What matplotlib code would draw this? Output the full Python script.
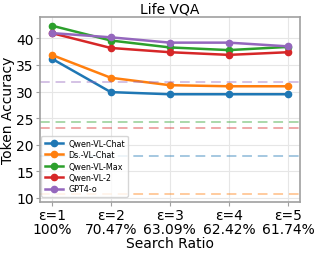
import matplotlib
matplotlib.use('Agg')
import matplotlib.pyplot as plt

# datos
etiquetas = ['ε=1\n100%', 'ε=2\n70.47%', 'ε=3\n63.09%', 'ε=4\n62.42%', 'ε=5\n61.74%']
modelos = ['Qwen-VL-Chat', 'Ds.-VL-Chat', 'Qwen-VL-Max', 'Qwen-VL-2', 'GPT4-o']
colores = ['#1f77b4', '#ff7f0e', '#2ca02c', '#d62728', '#9467bd']
qwen_vl_chat = [36.2, 29.9, 29.5, 29.5, 29.5]
ds_vl_chat = [36.9, 32.6, 31.2, 31.0, 31.0]
qwen_vl_max = [42.4, 39.6, 38.3, 37.8, 38.4]
qwen_vl_2 = [41.0, 38.2, 37.4, 36.9, 37.4]
gpt4_o = [41.0, 40.2, 39.2, 39.2, 38.5]
# lineas base (discontinuas)
base = [17.8, 10.8, 24.3, 23.1, 31.8]

series = [qwen_vl_chat, ds_vl_chat, qwen_vl_max, qwen_vl_2, gpt4_o]
x = list(range(len(etiquetas)))

fig, ax = plt.subplots(figsize=(3.19, 2.55), dpi=100)

for valores, nombre, c in zip(series, modelos, colores):
    ax.plot(x, valores, marker='o', markersize=4.5, linewidth=1.8, color=c, label=nombre)

for b, c in zip(base, colores):
    ax.axhline(b, color=c, linestyle='--', linewidth=1.4, alpha=0.4, dashes=(5, 3))

ax.set_xticks(x)
ax.set_xticklabels(etiquetas, fontsize=10, linespacing=1.0)
ax.set_yticks([10, 15, 20, 25, 30, 35, 40])
ax.tick_params(axis='y', labelsize=10)
ax.set_xlim(-0.2, 4.2)
ax.set_ylim(9.25, 44)
ax.grid(True, color='#e6e6e6', linewidth=0.8)
ax.set_axisbelow(True)
for s in ax.spines.values():
    s.set_color('#a0a0a0')
    s.set_linewidth(1.2)
ax.tick_params(length=3, width=0.8, color='#a0a0a0', pad=1.5)

ax.set_title('Life VQA', fontsize=10, pad=3)
ax.set_xlabel('Search Ratio', fontsize=10, labelpad=0)
ax.set_ylabel('Token Accuracy', fontsize=10, labelpad=1)

ax.legend(loc='lower left', bbox_to_anchor=(0.0, 0.02), fontsize=5.8, frameon=True,
          handlelength=2.3, borderaxespad=0.2, labelspacing=0.3, handletextpad=0.6,
          borderpad=0.4)

plt.subplots_adjust(left=0.125, right=0.94, top=0.929, bottom=0.204)
plt.savefig('out.png', dpi=100)
